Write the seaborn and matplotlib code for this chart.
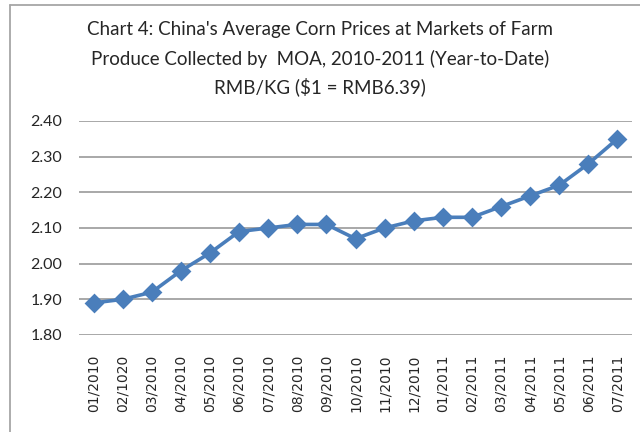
import matplotlib
matplotlib.use("Agg")
import matplotlib.pyplot as plt
import seaborn as sns
import pandas as pd
from matplotlib.lines import Line2D

months = ["01/2010", "02/1020", "03/2010", "04/2010", "05/2010", "06/2010",
          "07/2010", "08/2010", "09/2010", "10/2010", "11/2010", "12/2010",
          "01/2011", "02/2011", "03/2011", "04/2011", "05/2011", "06/2011",
          "07/2011"]
prices = [1.89, 1.90, 1.92, 1.98, 2.03, 2.09, 2.10, 2.11, 2.11, 2.07,
          2.10, 2.12, 2.13, 2.13, 2.16, 2.19, 2.22, 2.28, 2.35]
yticks = [1.80, 1.90, 2.00, 2.10, 2.20, 2.30, 2.40]

df = pd.DataFrame({"month": months, "price": prices})

sns.set_style("white")
plt.rcParams["font.family"] = ["Lato", "DejaVu Sans"]

fig = plt.figure(figsize=(6.4, 4.32), dpi=100)
ax = fig.add_axes([79 / 640, 1 - 335 / 432, (632 - 79) / 640, (335 - 121) / 432])

sns.pointplot(data=df, x="month", y="price", ax=ax, color="#4A7EBB",
              markers="D", markersize=8.5, linewidth=2.6)

ax.set_ylim(1.80, 2.40)
ax.set_xlim(-0.5, len(months) - 0.5)
ax.set_yticks(yticks)
ax.set_yticklabels([f"{v:.2f}" for v in yticks], fontsize=11.5)
ax.tick_params(axis="x", rotation=90, labelsize=10, length=0, pad=14)
for lab in ax.get_xticklabels():
    lab.set_family("DejaVu Sans")
ax.tick_params(axis="y", length=0, pad=12)
ax.set_xlabel("")
ax.set_ylabel("")
ax.grid(axis="y", color="#9a9a9a", linewidth=1.2)
ax.set_axisbelow(True)
for s in ax.spines.values():
    s.set_visible(False)

title_lines = ["Chart 4: China's Average Corn Prices at Markets of Farm",
               "Produce Collected by  MOA, 2010-2011 (Year-to-Date)",
               "RMB/KG ($1 = RMB6.39)"]
for txt, ypx in zip(title_lines, [30, 59, 87]):
    fig.text(0.5, 1 - ypx / 432, txt, ha="center", va="center", fontsize=13.5)

# outer chart frame (only top and left edges visible)
fig.add_artist(Line2D([10 / 640, 10 / 640], [0, 1 - 5 / 432], color="#a6a6a6", linewidth=1.3))
fig.add_artist(Line2D([10 / 640, 1], [1 - 5 / 432, 1 - 5 / 432], color="#a6a6a6", linewidth=1.3))

fig.savefig("out.png", dpi=100)
